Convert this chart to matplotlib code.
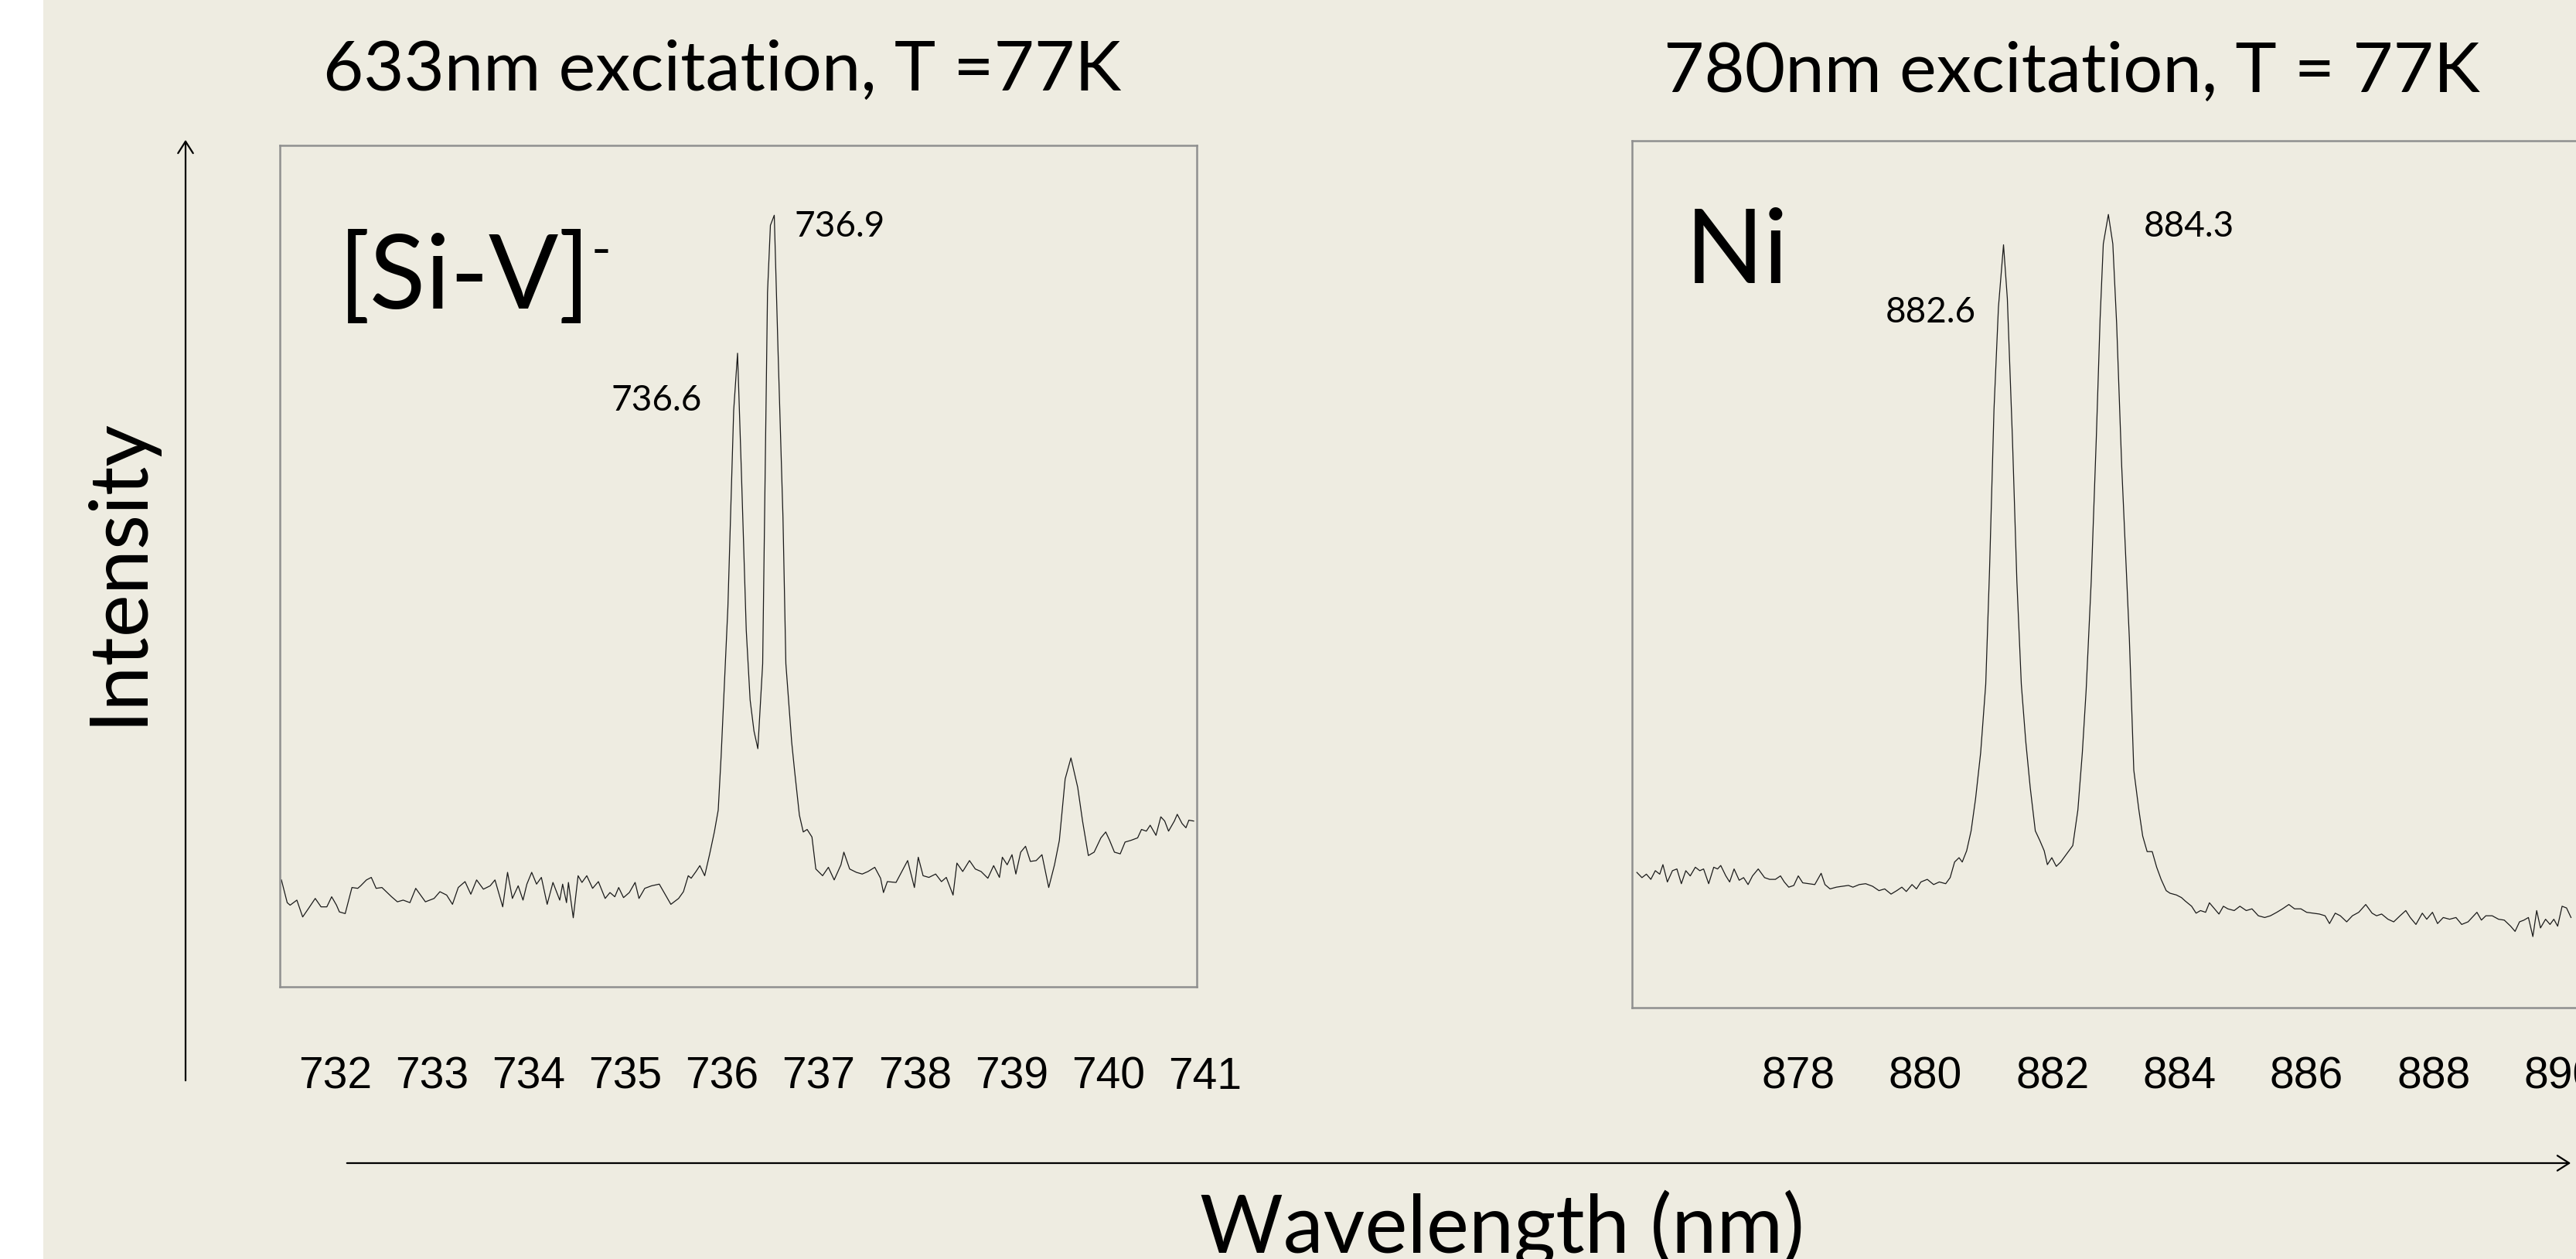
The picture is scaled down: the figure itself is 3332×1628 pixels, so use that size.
import matplotlib
matplotlib.use('Agg')
import matplotlib.pyplot as plt
import numpy as np
from matplotlib.patches import Rectangle, FancyArrowPatch
from matplotlib.transforms import blended_transform_factory

# Спектр [Si-V]- (633 нм, 77 K)
siv_wl = [731.44, 731.50, 731.53, 731.60, 731.66, 731.72, 731.79, 731.85, 731.91, 731.96,
          732.01, 732.04, 732.10, 732.17, 732.23, 732.26, 732.32, 732.37, 732.42, 732.48,
          732.58, 732.64, 732.70, 732.77, 732.83, 732.93, 733.02, 733.08, 733.15, 733.21,
          733.27, 733.34, 733.40, 733.46, 733.53, 733.60, 733.65, 733.73, 733.78, 733.83,
          733.89, 733.94, 733.98, 734.03, 734.08, 734.13, 734.19, 734.25, 734.32, 734.35,
          734.39, 734.41, 734.46, 734.51, 734.55, 734.60, 734.66, 734.72, 734.79, 734.84,
          734.89, 734.93, 734.98, 735.04, 735.10, 735.14, 735.20, 735.27, 735.35, 735.41,
          735.47, 735.55, 735.60, 735.65, 735.68, 735.73, 735.77, 735.82, 735.87, 735.92,
          735.96, 735.99, 736.06, 736.12, 736.16, 736.20, 736.25, 736.29, 736.33, 736.37,
          736.42, 736.47, 736.50, 736.54, 736.58, 736.63, 736.66, 736.72, 736.75, 736.80,
          736.84, 736.88, 736.93, 736.97, 737.04, 737.10, 737.16, 737.23, 737.26, 737.32,
          737.39, 737.45, 737.51, 737.58, 737.64, 737.67, 737.71, 737.80, 737.86, 737.92,
          737.99, 738.03, 738.08, 738.14, 738.21, 738.27, 738.32, 738.39, 738.43, 738.49,
          738.56, 738.62, 738.68, 738.75, 738.81, 738.87, 738.90, 738.95, 739.00, 739.04,
          739.09, 739.14, 739.19, 739.25, 739.31, 739.38, 739.44, 739.49, 739.55, 739.61,
          739.68, 739.73, 739.79, 739.85, 739.92, 739.97, 740.01, 740.06, 740.12, 740.17,
          740.23, 740.30, 740.34, 740.39, 740.43, 740.49, 740.54, 740.58, 740.62, 740.68,
          740.71, 740.76, 740.80, 740.83, 740.88]
siv_int = [127, 100, 97, 103, 83, 93, 105, 95, 95, 107,
           97, 89, 87, 118, 117, 120, 127, 130, 117, 118,
           107, 101, 103, 100, 117, 101, 105, 113, 109, 98,
           118, 125, 110, 127, 116, 120, 127, 95, 136, 105,
           120, 103, 122, 136, 122, 130, 98, 124, 103, 122,
           100, 124, 82, 132, 124, 132, 117, 125, 105, 112,
           107, 118, 106, 112, 124, 105, 117, 120, 122, 110,
           98, 105, 113, 132, 129, 137, 144, 132, 157, 184,
           210, 274, 451, 685, 753, 611, 424, 341, 304, 283,
           384, 825, 905, 917, 752, 558, 384, 291, 257, 204,
           184, 187, 178, 140, 132, 142, 127, 145, 160, 140,
           136, 134, 137, 142, 129, 112, 125, 124, 137, 150,
           118, 154, 132, 130, 134, 125, 130, 109, 147, 137,
           150, 140, 137, 129, 144, 130, 154, 145, 157, 134,
           160, 167, 149, 150, 157, 118, 145, 174, 247, 272,
           237, 197, 156, 160, 177, 184, 174, 160, 158, 172,
           174, 177, 187, 185, 192, 180, 202, 197, 185, 197,
           205, 194, 189, 198, 197]

# Спектр Ni (780 нм, 77 K)
ni_wl = [875.46, 875.54, 875.61, 875.68, 875.75, 875.82, 875.87, 875.94, 876.02, 876.09,
         876.16, 876.23, 876.30, 876.38, 876.45, 876.51, 876.59, 876.67, 876.73, 876.78,
         876.86, 876.92, 876.99, 877.07, 877.14, 877.21, 877.28, 877.37, 877.47, 877.55,
         877.64, 877.72, 877.78, 877.85, 877.93, 878.00, 878.07, 878.17, 878.26, 878.36,
         878.42, 878.50, 878.60, 878.69, 878.79, 878.86, 878.96, 879.06, 879.17, 879.27,
         879.36, 879.46, 879.55, 879.63, 879.70, 879.79, 879.86, 879.93, 880.03, 880.13,
         880.22, 880.32, 880.39, 880.46, 880.53, 880.58, 880.65, 880.72, 880.79, 880.87,
         880.95, 881.01, 881.08, 881.15, 881.23, 881.29, 881.37, 881.44, 881.51, 881.58,
         881.65, 881.73, 881.80, 881.87, 881.92, 881.99, 882.06, 882.13, 882.21, 882.32,
         882.40, 882.47, 882.53, 882.61, 882.69, 882.75, 882.80, 882.88, 882.95, 883.01,
         883.09, 883.17, 883.21, 883.28, 883.36, 883.42, 883.49, 883.57, 883.64, 883.71,
         883.79, 883.85, 883.95, 884.03, 884.09, 884.19, 884.26, 884.33, 884.41, 884.47,
         884.54, 884.62, 884.69, 884.76, 884.86, 884.95, 885.05, 885.14, 885.24, 885.34,
         885.43, 885.53, 885.62, 885.72, 885.81, 885.91, 886.00, 886.10, 886.20, 886.29,
         886.36, 886.45, 886.53, 886.63, 886.72, 886.82, 886.93, 887.03, 887.10, 887.18,
         887.28, 887.37, 887.47, 887.56, 887.63, 887.72, 887.82, 887.89, 887.98, 888.06,
         888.15, 888.25, 888.35, 888.44, 888.54, 888.63, 888.68, 888.75, 888.82, 888.92,
         889.02, 889.11, 889.21, 889.28, 889.35, 889.42, 889.49, 889.56, 889.62, 889.68,
         889.76, 889.83, 889.89, 889.95, 890.02, 890.09, 890.16]
ni_int = [156, 150, 154, 148, 158, 154, 165, 145, 158, 160,
          143, 158, 152, 162, 158, 160, 143, 162, 160, 164,
          152, 145, 160, 147, 150, 142, 152, 160, 150, 148,
          148, 152, 145, 139, 141, 152, 144, 143, 142, 155,
          142, 137, 139, 140, 141, 139, 142, 143, 140, 135,
          137, 131, 135, 139, 134, 142, 137, 145, 148, 142,
          145, 143, 150, 168, 173, 168, 181, 204, 241, 294,
          373, 505, 690, 808, 880, 818, 657, 492, 373, 307,
          254, 204, 193, 181, 165, 173, 163, 168, 176, 187,
          228, 294, 366, 492, 657, 795, 881, 915, 881, 789,
          624, 492, 426, 274, 228, 198, 180, 180, 162, 148,
          135, 132, 130, 127, 123, 117, 109, 112, 110, 121,
          115, 108, 117, 114, 112, 117, 112, 114, 106, 104,
          106, 110, 114, 119, 114, 114, 110, 109, 108, 106,
          97, 109, 106, 99, 106, 110, 119, 109, 106, 108,
          102, 99, 106, 112, 104, 96, 109, 102, 110, 97,
          104, 102, 104, 96, 99, 106, 110, 101, 106, 106,
          102, 101, 94, 88, 99, 101, 104, 82, 112, 92,
          102, 96, 102, 94, 117, 115, 104]

siv_ticks = [732, 733, 734, 735, 736, 737, 738, 739, 740, 741]
ni_ticks = [878, 880, 882, 884, 886, 888, 890]

siv_peaks = ['736.6', '736.9']
siv_peak_pos = [(735.79, 685), (736.75, 892)]
ni_peaks = ['882.6', '884.3']
ni_peak_pos = [(880.80, 790), (883.43, 889)]

BG = '#EEECE1'
W, H = 3332, 1628
CAL = 'Lato'


def fx(px):
    return px / W


def fy(py):
    return 1 - py / H


fig = plt.figure(figsize=(W / 100, H / 100), dpi=100)
fig.patch.set_facecolor(BG)
# белая полоса слева
fig.patches.append(Rectangle((0, 0), fx(56), 1, transform=fig.transFigure,
                             facecolor='white', edgecolor='none', zorder=0))


def spectrum_axes(rect, wl, inten, xlim):
    ax = fig.add_axes(rect)
    ax.set_facecolor('none')
    ax.plot(wl, inten, color='#1a1a1a', lw=0.9)
    ax.set_xlim(*xlim)
    ax.set_ylim(0, 1000)
    ax.set_xticks([])
    ax.set_yticks([])
    for s in ax.spines.values():
        s.set_color('#8f8f8f')
        s.set_linewidth(1.8)
    return ax


ax1 = spectrum_axes([fx(362), fy(1276), fx(1548) - fx(362), fy(188) - fy(1276)],
                    siv_wl, siv_int, (731.424, 740.912))
ax2 = spectrum_axes([fx(2111), fy(1303), fx(3345) - fx(2111), fy(182) - fy(1303)],
                    ni_wl, ni_int, (875.384, 890.397))

# подписи оси X (рисуются под рамкой)
for ax, ticks in ((ax1, siv_ticks), (ax2, ni_ticks)):
    tr = blended_transform_factory(ax.transData, fig.transFigure)
    for t in ticks:
        ax.text(t, fy(1408), str(t), transform=tr, ha='center', va='baseline',
                fontsize=41, family='Liberation Sans', clip_on=False)

# подписи пиков
for lbl, (x, y) in zip(siv_peaks, siv_peak_pos):
    ax1.text(x, y, lbl, ha='right' if lbl == '736.6' else 'left', va='baseline',
             fontsize=33, family=CAL)
for lbl, (x, y) in zip(ni_peaks, ni_peak_pos):
    ax2.text(x, y, lbl, ha='right' if lbl == '882.6' else 'left', va='baseline',
             fontsize=33, family=CAL)

ax1.text(0.064, 0.8065, '[Si-V]', transform=ax1.transAxes, ha='left', va='baseline',
         fontsize=96, family=CAL)
fig.text(fx(765), fy(345), '-', ha='left', va='baseline', fontsize=50, family=CAL)
ax2.text(0.056, 0.836, 'Ni', transform=ax2.transAxes, ha='left', va='baseline',
         fontsize=96, family=CAL)

# заголовки
fig.text(fx(934), fy(117), '633nm excitation, T =77K', ha='center', va='baseline',
         fontsize=65, family=CAL)
fig.text(fx(2680), fy(119), '780nm excitation, T = 77K', ha='center', va='baseline',
         fontsize=65, family=CAL)

# оси-стрелки
fig.patches.append(FancyArrowPatch((fx(240), fy(1400)), (fx(240), fy(178)),
                                   transform=fig.transFigure, arrowstyle='->,head_length=11,head_width=7',
                                   lw=1.6, color='black', mutation_scale=1))
fig.patches.append(FancyArrowPatch((fx(446), fy(1504)), (fx(3328), fy(1504)),
                                   transform=fig.transFigure, arrowstyle='->,head_length=11,head_width=7',
                                   lw=1.6, color='black', mutation_scale=1))

fig.text(fx(183), fy(738), 'Intensity', rotation=90, rotation_mode='anchor',
         ha='center', va='baseline', fontsize=75, family=CAL)
fig.text(fx(1943), fy(1620), 'Wavelength (nm)', ha='center', va='baseline',
         fontsize=75, family=CAL)

fig.savefig('out.png', dpi=100, facecolor=fig.get_facecolor())
